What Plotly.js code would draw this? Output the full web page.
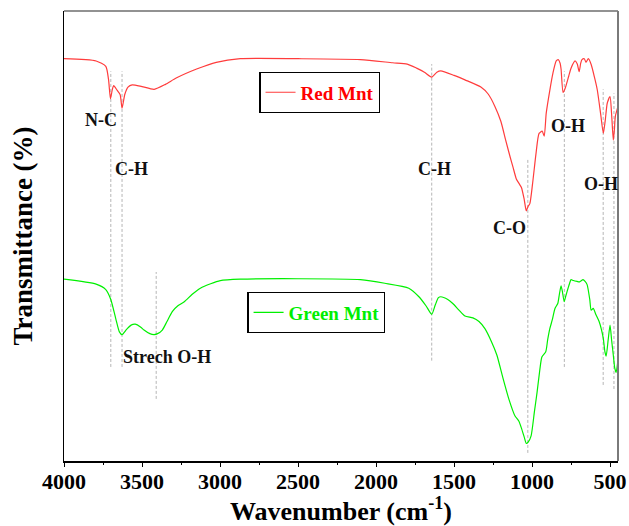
<!DOCTYPE html>
<html>
<head>
<meta charset="utf-8">
<script src="https://cdn.plot.ly/plotly-3.0.1.min.js"></script>
<style>html,body{margin:0;padding:0;background:#fff;}#chart{width:629px;height:526px;}</style>
</head>
<body>
<div id="chart"></div>
<script>
// Red Mnt spectrum (wavenumber cm-1, transmittance a.u.)
const redWave = [4000,3794,3732,3715,3702,3690,3681,3660,3640,3628,3610,3590,3563,3500,3422,3350,3281,3150,3024,2870,2500,2100,1893,1800,1740,1690,1643,1610,1585,1500,1430,1328,1280,1238,1200,1169,1140,1122,1100,1084,1068,1050,1037,1025,1014,994,975,955,935,922,909,885,866,845,832,820,814,801,790,783,765,750,724,710,698,688,680,665,654,639,621,600,582,560,543,530,518,500,490,479,472,466,448];
const redT    = [89.4,88.9,87.7,84.9,80.5,82.6,83.4,82.4,81.4,78.4,81.5,83.1,83.6,83.2,82.6,83.7,85.1,87.1,88.6,89.4,89.4,89.2,88.5,88.2,87.3,86.4,85.3,86.4,86.7,85.7,84.7,83.1,81.5,78.8,75.5,71.3,67.5,65.3,62.6,61.7,60.8,58.1,55.6,56.6,57.2,62.4,68.2,72.8,73.3,72.2,77.3,82.6,86.2,88.9,89.2,88.4,87.1,81.9,82.6,83.3,85.5,87.3,88.9,88.2,86.5,88.4,89.2,89.4,88.6,89.4,88.1,85.3,82.5,77.1,72.8,75.9,79.5,81.0,77.1,71.3,73.7,76.6,78.9];

// Green Mnt spectrum
const greenWave = [4000,3794,3732,3700,3668,3645,3628,3600,3570,3543,3510,3487,3450,3422,3400,3370,3340,3306,3270,3229,3180,3126,3060,2998,2870,2500,2100,1944,1790,1725,1680,1643,1620,1600,1585,1540,1508,1470,1430,1379,1340,1302,1260,1225,1190,1148,1109,1085,1068,1050,1037,1025,1006,985,968,950,937,912,900,886,870,853,835,825,814,805,794,785,776,760,750,735,711,695,673,660,647,630,621,608,590,570,555,543,533,525,512,500,490,479,470,461,448];
const greenT    = [40.4,39.3,38.1,35.9,31.6,28.7,28.1,29.2,30.2,30.4,29.8,29.1,28.3,28.1,28.3,29.1,31.0,33.2,34.5,35.4,37.0,38.4,39.4,40.1,40.4,40.5,40.3,39.5,38.4,36.5,34.5,32.6,34.7,36.3,36.5,35.9,35.0,33.6,32.2,31.8,31.0,29.4,26.5,23.5,18.9,13.7,10.0,8.9,7.3,5.3,3.9,4.2,5.6,10.9,15.2,20.3,23.1,24.3,26.9,29.4,31.4,33.9,35.0,37.0,38.9,37.6,35.4,36.5,37.6,39.4,40.3,40.1,39.9,39.8,40.3,39.9,39.2,35.9,33.5,33.9,32.5,31.0,29.2,27.2,24.3,23.3,26.9,30.2,26.9,23.5,20.7,19.7,22.9];

// Peak marker lines (wavenumber, top and bottom transmittance)
const markWave   = [3700,3628,3409,1643,1027,793,544,475];
const markTop    = [86.6,86.6,42.0,88.2,67.3,86.6,82.6,81.7];
const markBottom = [20.9,20.9,13.8,22.3,1.8,20.9,16.9,16.0];

// Peak labels
const labelText = ["N-C","C-H","C-H","C-O","O-H","O-H","Strech O-H"];
const labelWave = [3766,3568,1623,1145,771,557,3341];
const labelT    = [75.8,64.9,64.9,51.7,74.4,61.6,23.1];

const xTickVals = [4000,3500,3000,2500,2000,1500,1000,500];

const font = "Liberation Serif, Times New Roman, serif";

const traces = [];
markWave.forEach((w,i)=>{
  traces.push({x:[w,w], y:[markBottom[i],markTop[i]], mode:'lines', showlegend:false, hoverinfo:'skip',
    line:{color:'#b5b5b5', width:1, dash:'3px,2px'}});
});
traces.push({x:redWave, y:redT, name:'Red Mnt', mode:'lines', legend:'legend',
  line:{color:'#ff3c3c', width:1.2, shape:'spline', smoothing:0.6}});
traces.push({x:greenWave, y:greenT, name:'Green Mnt', mode:'lines', legend:'legend2',
  line:{color:'#00f000', width:1.2, shape:'spline', smoothing:0.6}});
// invisible helper trace carrying the tick-mark axis
traces.push({x:[redWave[0]], y:[redT[0]], xaxis:'x2', mode:'lines', showlegend:false, hoverinfo:'skip',
  line:{color:'rgba(0,0,0,0)'}});

const annotations = labelText.map((t,i)=>({
  x:labelWave[i], y:labelT[i], xref:'x', yref:'y', text:t, showarrow:false,
  font:{family:font, size:18, color:'#111', weight:'bold'}
}));

const layout = {
  width:629, height:526,
  margin:{l:64, r:11, t:11, b:65},
  paper_bgcolor:'#fff', plot_bgcolor:'#fff',
  showlegend:true,
  xaxis:{
    range:[4000,449], tickvals:xTickVals, ticktext:xTickVals.map(String),
    ticks:'', ticklen:0,
    showline:true, linecolor:'#000', linewidth:1.5, mirror:false,
    showgrid:false, zeroline:false,
    tickfont:{family:font, size:22, color:'#000', weight:'bold'},
    title:{text:'Wavenumber (cm<sup>-1</sup>)', font:{family:font, size:26, color:'#000', weight:'bold'}, standoff:8}
  },
  xaxis2:{
    overlaying:'x', anchor:'y', side:'bottom', range:[4000,449],
    tickvals:xTickVals, showticklabels:false,
    ticks:'outside', ticklen:5, tickwidth:1, tickcolor:'#000',
    minor:{dtick:250, ticks:'outside', ticklen:3, tickcolor:'#000', tick0:0},
    showline:false, showgrid:false, zeroline:false
  },
  yaxis:{
    range:[0,100], showticklabels:false, ticks:'', showgrid:false, zeroline:false,
    showline:true, linecolor:'#000', linewidth:1.5, mirror:false,
    title:{text:'Transmittance (%)', font:{family:font, size:27, color:'#000', weight:'bold'}, standoff:22}
  },
  shapes:[
    {type:'line', xref:'paper', yref:'paper', x0:0, x1:1, y0:1, y1:1, line:{color:'#6e6e6e', width:1.5}},
    {type:'line', xref:'paper', yref:'paper', x0:1, x1:1, y0:0, y1:1, line:{color:'#7a7a7a', width:2}}
  ],
  legend:{x:0.3526, y:0.864, xanchor:'left', yanchor:'top', bgcolor:'rgba(255,255,255,0)',
    bordercolor:'#000', borderwidth:1.2, font:{family:font, size:19, color:'#ff0000', weight:'bold'},
    itemwidth:30},
  legend2:{x:0.331, y:0.375, xanchor:'left', yanchor:'top', bgcolor:'rgba(255,255,255,0)',
    bordercolor:'#000', borderwidth:1.2, font:{family:font, size:19, color:'#00ee00', weight:'bold'},
    itemwidth:30},
  annotations:annotations
};

Plotly.newPlot('chart', traces, layout, {displayModeBar:false, staticPlot:true});
</script>
</body>
</html>
